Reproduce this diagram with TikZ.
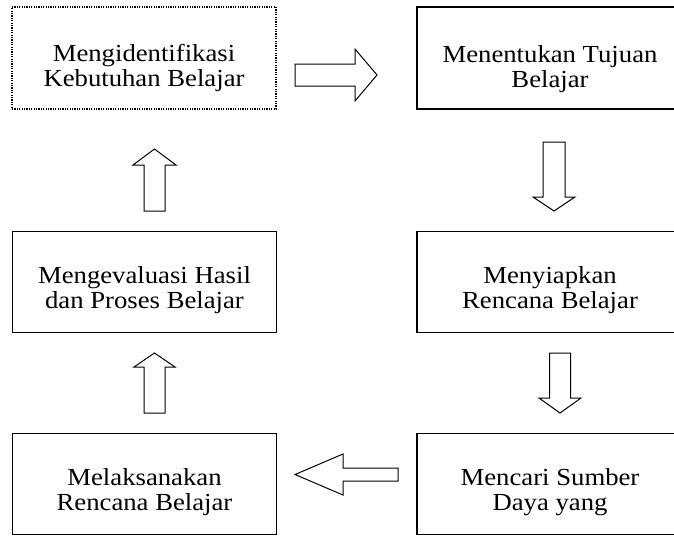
\documentclass[tikz,border=0pt]{standalone}
\usepackage{fontspec}
\setmainfont{Liberation Serif}[FakeStretch=1.09]
\usepackage{tikz}
\usetikzlibrary{calc}
\tikzstyle{kotak}=[draw,line width=1.2pt,minimum width=264pt,minimum height=101pt,inner sep=0pt]
\tikzstyle{titik}=[kotak,line width=1.4pt,dash pattern=on 1.2pt off 1.2pt]
\tikzstyle{teks}=[align=center,inner sep=0pt,font=\fontsize{24.5}{25}\selectfont]
\tikzstyle{panah}=[draw,line width=1pt,line join=miter]

\begin{document}
\begin{tikzpicture}[x=1pt,y=-1pt]
\useasboundingbox (0,0) rectangle (674,536);
\clip (0,0) rectangle (674,536);
\node[titik,minimum height=102pt] (kebutuhan) at (144,58) {};
\node[kotak,minimum height=102pt] (tujuan) at (549,58) {};
\node[kotak] (rencana) at (549,281.75) {};
\node[kotak] (sumber) at (549,484.25) {};
\node[kotak] (laksana) at (144.5,484.25) {};
\node[kotak] (evaluasi) at (144.5,281.75) {};
\node[teks] (tkebutuhan) at ([yshift=-10pt]kebutuhan.center) {Mengidentifikasi\\Kebutuhan Belajar};
\node[teks] (ttujuan) at ([xshift=1pt,yshift=-11pt]tujuan.center) {Menentukan Tujuan\\Belajar};
\node[teks] (trencana) at ([xshift=1pt,yshift=-8pt]rencana.center) {Menyiapkan\\Rencana Belajar};
\node[teks] (tsumber) at ([xshift=1pt,yshift=-8pt]sumber.center) {Mencari Sumber\\Daya yang};
\node[teks] (tlaksana) at ([yshift=-8pt]laksana.center) {Melaksanakan\\Rencana Belajar};
\node[teks] (tevaluasi) at ([yshift=-8pt]evaluasi.center) {Mengevaluasi Hasil\\dan Proses Belajar};
\draw[panah] (295,64)--(355,64)--(355,49)--(377,75)--(355,101)--(355,86)--(295,86)--cycle;
\draw[panah] (543,142)--(565,142)--(565,197)--(575,197)--(554,211)--(533,197)--(543,197)--cycle;
\draw[panah] (549.5,353)--(570.5,353)--(570.5,398)--(581,398)--(560,413)--(539,398)--(549.5,398)--cycle;
\draw[panah] (398,468)--(343,468)--(343,454)--(295,474.5)--(343,495)--(343,481)--(398,481)--cycle;
\draw[panah] (144,413)--(165,413)--(165,367)--(175,367)--(154.5,353)--(134,367)--(144,367)--cycle;
\draw[panah] (144,211)--(165,211)--(165,165)--(176,165)--(154.5,149)--(133,165)--(144,165)--cycle;
\end{tikzpicture}
\end{document}
